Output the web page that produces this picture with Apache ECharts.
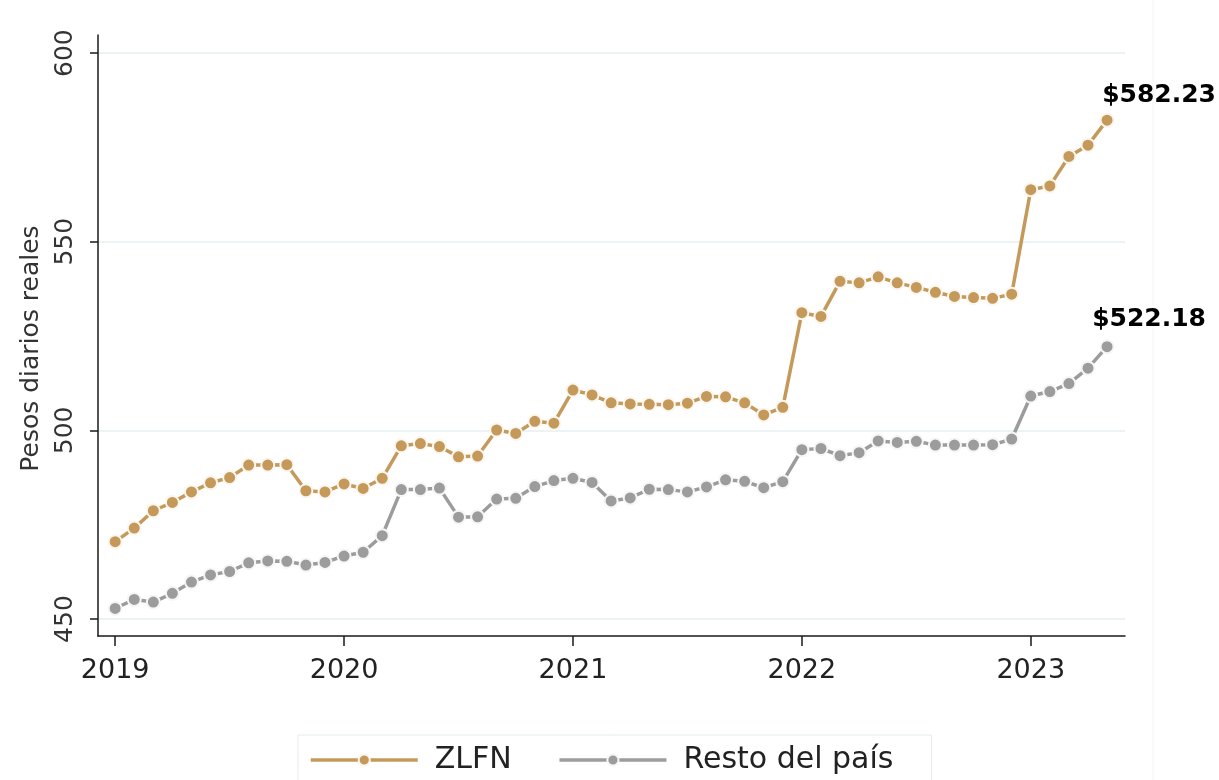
<!DOCTYPE html>
<html>
<head>
<meta charset="utf-8">
<script src="https://cdn.jsdelivr.net/npm/echarts@6/dist/echarts.min.js"></script>
<style>
  html, body { margin: 0; background: #fff; }
  #chart { width: 1219px; height: 780px; }
</style>
</head>
<body>
<div id="chart"></div>
<script>
// meses (ene 2019 - may 2023)
const months = [
  '2019-01','2019-02','2019-03','2019-04','2019-05','2019-06','2019-07','2019-08','2019-09','2019-10','2019-11','2019-12',
  '2020-01','2020-02','2020-03','2020-04','2020-05','2020-06','2020-07','2020-08','2020-09','2020-10','2020-11','2020-12',
  '2021-01','2021-02','2021-03','2021-04','2021-05','2021-06','2021-07','2021-08','2021-09','2021-10','2021-11','2021-12',
  '2022-01','2022-02','2022-03','2022-04','2022-05','2022-06','2022-07','2022-08','2022-09','2022-10','2022-11','2022-12',
  '2023-01','2023-02','2023-03','2023-04','2023-05'
];

const zlfn = [
  470.5, 474.1, 478.7, 480.9, 483.7, 486.1, 487.5, 490.8, 490.8, 490.9, 484.0, 483.7,
  485.8, 484.6, 487.3, 495.9, 496.5, 495.7, 493.0, 493.2, 500.1, 499.2, 502.4, 501.9,
  510.7, 509.4, 507.3, 507.0, 506.9, 506.8, 507.2, 509.0, 508.9, 507.3, 504.1, 506.1,
  531.2, 530.2, 539.5, 539.1, 540.7, 539.1, 537.9, 536.6, 535.5, 535.2, 535.0, 536.1,
  563.8, 564.8, 572.6, 575.6, 582.23
];

const resto = [
  452.8, 455.2, 454.5, 456.8, 459.8, 461.7, 462.6, 464.9, 465.4, 465.3, 464.3, 465.0,
  466.7, 467.7, 472.1, 484.3, 484.3, 484.7, 477.0, 477.1, 481.8, 482.0, 485.1, 486.7,
  487.3, 486.2, 481.3, 482.1, 484.4, 484.3, 483.7, 485.0, 486.9, 486.5, 484.8, 486.4,
  494.9, 495.2, 493.3, 494.1, 497.2, 496.8, 497.1, 496.1, 496.1, 496.1, 496.2, 497.7,
  509.1, 510.3, 512.4, 516.5, 522.18
];

const yearTicks = ['2019', '2020', '2021', '2022', '2023'];
const yTicks = [450, 500, 550, 600];

const FONT = '"DejaVu Sans", "Noto Sans", sans-serif';

// posicion de cada año en el eje (indice del mes de enero)
const yearPos = yearTicks.map(y => months.indexOf(y + '-01'));

// serie -> pares [indice de mes, valor], con etiqueta en el ultimo punto
function buildData(values, offset) {
  return values.map((v, i) => {
    const item = { value: [i, v] };
    if (i === values.length - 1) {
      item.label = {
        show: true,
        position: 'top',
        offset: offset,
        formatter: p => '$' + p.value[1].toFixed(2),
        fontFamily: FONT,
        fontWeight: 'bold',
        fontSize: 25,
        color: '#000'
      };
    }
    return item;
  });
}

const chart = echarts.init(document.getElementById('chart'));

const option = {
  animation: false,
  backgroundColor: '#fff',
  grid: { left: 98, right: 94, top: 35, bottom: 144 },
  xAxis: {
    type: 'value',
    min: -0.9,
    max: 52.94,
    axisLine: { show: true, onZero: false, lineStyle: { color: '#1a1a1a', width: 1.5 } },
    axisTick: {
      show: true, length: 10,
      customValues: yearPos,
      lineStyle: { color: '#1a1a1a', width: 1.5 }
    },
    axisLabel: {
      customValues: yearPos,
      formatter: v => yearTicks[yearPos.indexOf(v)] || '',
      fontFamily: FONT, fontSize: 27, color: '#222', margin: 21
    },
    splitLine: { show: false }
  },
  yAxis: {
    type: 'value',
    min: 445.5,
    max: 604.8,
    name: 'Pesos diarios reales',
    nameLocation: 'middle',
    nameGap: 54,
    nameTextStyle: { fontFamily: FONT, fontSize: 25, color: '#333', padding: [0, 26, 0, 0] },
    axisLine: { show: true, onZero: false, lineStyle: { color: '#1a1a1a', width: 1.5 } },
    axisTick: {
      show: true, length: 8,
      customValues: yTicks,
      lineStyle: { color: '#1a1a1a', width: 1.5 }
    },
    axisLabel: {
      customValues: yTicks,
      rotate: 90,
      fontFamily: FONT, fontSize: 25, color: '#333', margin: 20
    },
    splitLine: { show: true, lineStyle: { color: '#e6eff2', width: 1.5 } }
  },
  legend: {
    left: 298,
    top: 735,
    data: ['ZLFN', 'Resto del país'],
    itemWidth: 107,
    itemHeight: 14,
    itemGap: 46,
    padding: [10, 38, 30, 11],
    borderColor: '#e4ecef',
    borderWidth: 1,
    lineStyle: { width: 3.5 },
    textStyle: { fontFamily: FONT, fontSize: 30, color: '#222', padding: [0, 0, 0, 12] }
  },
  graphic: [{
    type: 'line',
    shape: { x1: 1153, y1: 0, x2: 1153, y2: 780 },
    style: { stroke: '#f3f5f6', lineWidth: 1 },
    silent: true
  }],
  series: [
    {
      name: 'ZLFN',
      type: 'line',
      data: buildData(zlfn, [52, 0]),
      symbol: 'circle',
      symbolSize: 13,
      showAllSymbol: true,
      lineStyle: { color: '#c4995a', width: 3.5 },
      itemStyle: { color: '#c4995a', borderColor: '#fbf6ee', borderWidth: 2 }
    },
    {
      name: 'Resto del país',
      type: 'line',
      data: buildData(resto, [42, -2]),
      symbol: 'circle',
      symbolSize: 13,
      showAllSymbol: true,
      lineStyle: { color: '#9c9c9c', width: 3.5 },
      itemStyle: { color: '#9c9c9c', borderColor: '#f6f6f6', borderWidth: 2 }
    }
  ]
};

chart.setOption(option);
</script>
</body>
</html>
